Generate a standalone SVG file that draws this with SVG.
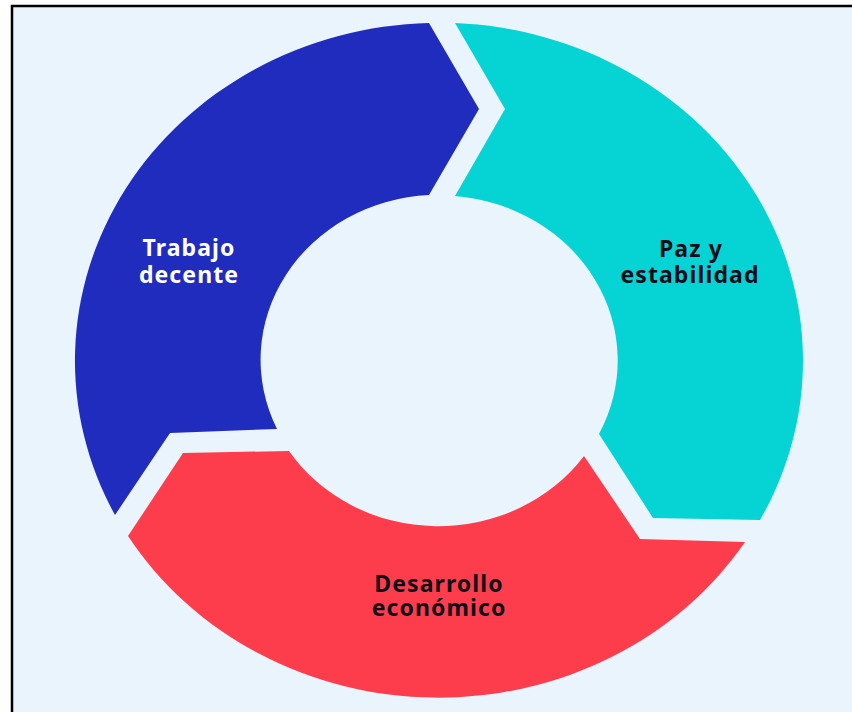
<svg xmlns="http://www.w3.org/2000/svg" width="852" height="712" viewBox="0 0 852 712">
  <style>
    .lbl { font-family: "Noto Sans", "Open Sans", "DejaVu Sans", sans-serif; font-weight: bold; font-size: 23px; text-anchor: middle; letter-spacing: 1.1px; }
    .light { fill: #ffffff; }
    .dark { fill: #0d0d1a; }
  </style>
  <rect x="0" y="0" width="852" height="712" fill="#ffffff"/>
  <rect x="12" y="6" width="860" height="720" fill="#EAF4FD" stroke="#000000" stroke-width="2.5"/>
  <g id="trabajo-decente">
    <path d="M 115,515 L 170,433 L 277,429 A 178 165 0 0 1 429,195 L 479,109 L 429,23 A 364 338 0 0 0 115,515 Z" fill="#1F2CBE"/>
    <text class="lbl light"><tspan x="189" y="256">Trabajo</tspan><tspan x="189" y="283">decente</tspan></text>
  </g>
  <g id="paz-estabilidad">
    <path d="M 455,23 L 505,109 L 455,196 A 178 165 0 0 1 599,434 L 653,518 L 760,520 A 364 338 0 0 0 455,23 Z" fill="#06D4D4"/>
    <text class="lbl dark"><tspan x="691" y="257">Paz y</tspan><tspan x="690" y="283">estabilidad</tspan></text>
  </g>
  <g id="desarrollo-economico">
    <path d="M 745,542 L 640,539 L 584,456 A 178 165 0 0 1 289,451 L 183,453 L 128,536 A 364 338 0 0 0 745,542 Z" fill="#FE3D4C"/>
    <text class="lbl dark"><tspan x="439" y="592">Desarrollo</tspan><tspan x="439" y="616">económico</tspan></text>
  </g>
  <g id="connectors"/>
</svg>
